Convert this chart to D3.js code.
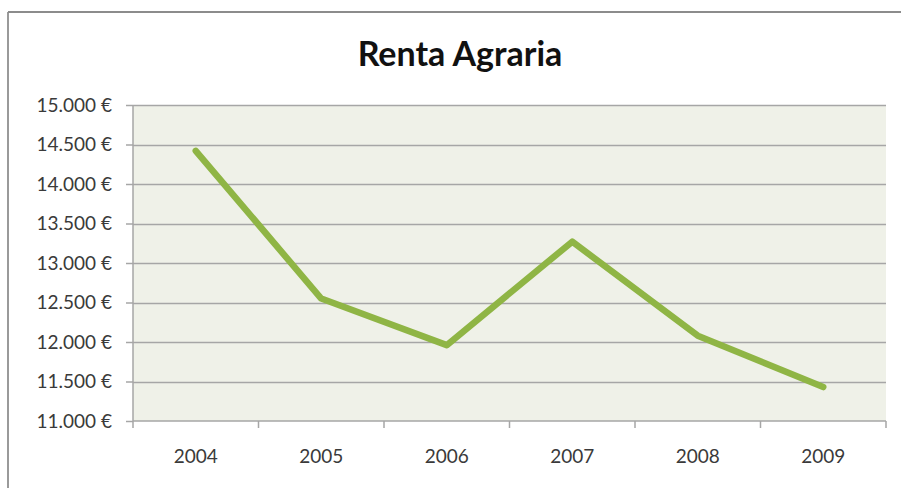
<!DOCTYPE html>
<html>
<head>
<meta charset="utf-8">
<script src="https://cdn.jsdelivr.net/npm/d3@7"></script>
<style>
  body { margin: 0; background: #fff; }
  svg { display: block; font-family: Lato, "Open Sans", sans-serif; }
</style>
</head>
<body>
<div id="chart"></div>
<script>
// Chart data
const years = ["2004", "2005", "2006", "2007", "2008", "2009"];
const renta = [14420, 12550, 11960, 13270, 12080, 11430];
const yTicks = [11000, 11500, 12000, 12500, 13000, 13500, 14000, 14500, 15000];

const W = 901, H = 488;
const margin = { top: 105, right: 15, bottom: 67, left: 133 },
    width = W - margin.left - margin.right,
    height = H - margin.top - margin.bottom;

const svg = d3.select("#chart").append("svg")
    .attr("width", W)
    .attr("height", H);

// outer chart frame (left and top edges visible)
svg.append("line").attr("x1", 8).attr("x2", 8).attr("y1", 12).attr("y2", H)
    .attr("stroke", "#9a9a9a").attr("stroke-width", 2);
svg.append("line").attr("x1", 8).attr("x2", W).attr("y1", 12).attr("y2", 12)
    .attr("stroke", "#8c8c8c").attr("stroke-width", 2);

// title
svg.append("text")
    .attr("x", 460)
    .attr("y", 66)
    .attr("text-anchor", "middle")
    .attr("font-size", 34)
    .attr("font-weight", "bold")
    .attr("fill", "#111")
    .text("Renta Agraria");

const g = svg.append("g").attr("transform", `translate(${margin.left},${margin.top})`);

const x = d3.scaleBand().domain(years).range([0, width]);
const y = d3.scaleLinear().domain([11000, 15000]).range([height, 0]);

// plot background
g.append("rect")
    .attr("width", width)
    .attr("height", height)
    .attr("fill", "#eff1e8");

// gridlines
g.append("g")
    .selectAll("line")
    .data(yTicks.slice(1))
    .join("line")
    .attr("x1", 0)
    .attr("x2", width)
    .attr("y1", d => Math.round(y(d)) + 0.5)
    .attr("y2", d => Math.round(y(d)) + 0.5)
    .attr("stroke", "#a6a6a6")
    .attr("stroke-width", 1.5);

const fmt = d => d3.format(",")(d).replace(/,/g, ".") + " €";

// y axis
const yAxis = g.append("g")
    .call(d3.axisLeft(y).tickValues(yTicks).tickFormat(fmt).tickSize(7).tickPadding(14));
yAxis.select(".domain").attr("stroke", "#a6a6a6").attr("stroke-width", 1.5)
    .attr("d", `M0,0V${height + 7}`);
yAxis.selectAll(".tick line").attr("stroke", "#a6a6a6").attr("stroke-width", 1.5);
yAxis.selectAll("text").attr("font-size", 19).attr("fill", "#3a3a3a")
    .attr("font-family", "Lato, sans-serif");

// x axis
const xAxis = g.append("g")
    .attr("transform", `translate(0,${height})`)
    .call(d3.axisBottom(x).tickSize(0).tickPadding(29));
xAxis.select(".domain").attr("stroke", "#a6a6a6").attr("stroke-width", 1.5)
    .attr("d", `M0,0H${width}`);
xAxis.selectAll("text").attr("font-size", 19).attr("fill", "#3a3a3a")
    .attr("font-family", "Lato, sans-serif");
// category boundary ticks
xAxis.append("g")
    .selectAll("line")
    .data(years.slice(1).concat(["end"]))
    .join("line")
    .attr("x1", d => d === "end" ? width : x(d))
    .attr("x2", d => d === "end" ? width : x(d))
    .attr("y1", 0)
    .attr("y2", 7)
    .attr("stroke", "#a6a6a6")
    .attr("stroke-width", 1.5);

// line
g.append("path")
    .datum(renta)
    .attr("fill", "none")
    .attr("stroke", "#8fb545")
    .attr("stroke-width", 6.5)
    .attr("stroke-linecap", "round")
    .attr("stroke-linejoin", "round")
    .attr("d", d3.line()
        .x((d, i) => x(years[i]) + x.bandwidth() / 2)
        .y(d => y(d)));
</script>
</body>
</html>
